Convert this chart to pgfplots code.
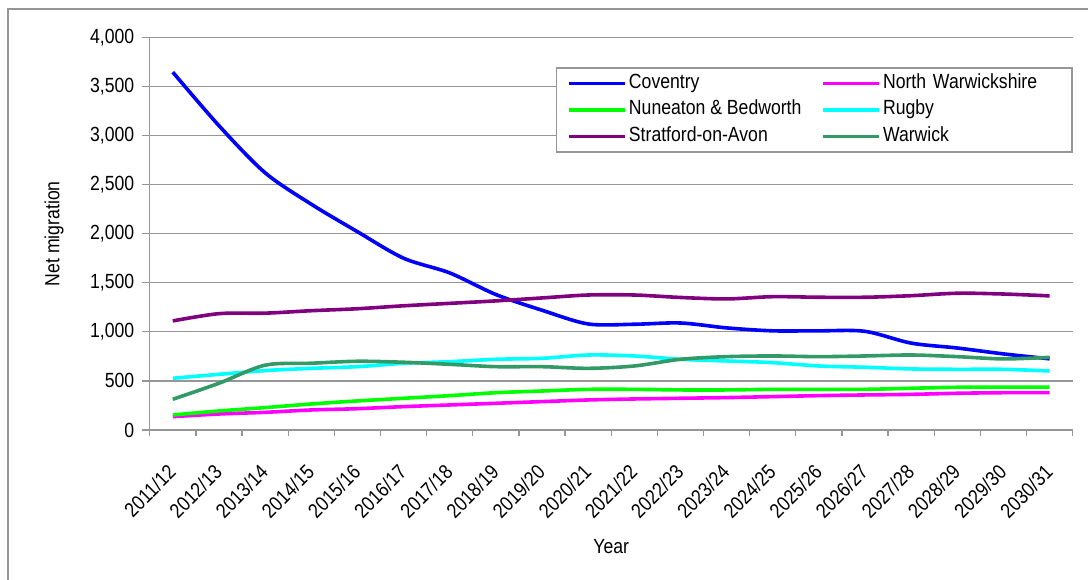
\documentclass[border=0pt]{standalone}
\usepackage{pgfplots}
\pgfplotsset{compat=1.18}
\usepackage{fontspec}
\setmainfont{Liberation Sans}[FakeStretch=0.86]
\definecolor{gridgray}{RGB}{150,150,150}
\definecolor{seagreen}{RGB}{51,153,102}
\definecolor{purp}{RGB}{128,0,128}
\definecolor{cBlue}{RGB}{0,0,255}
\definecolor{cMag}{RGB}{255,0,255}
\definecolor{cGreen}{RGB}{0,255,0}
\definecolor{cCyan}{RGB}{0,255,255}
\newcommand{\chartfont}{\fontsize{20.5bp}{24bp}\selectfont}
\begin{document}
\begin{tikzpicture}[x=1bp,y=1bp]
\useasboundingbox (0,0) rectangle (1088,580);
\draw[gridgray, line width=1.3bp] (8,0) -- (8,571) -- (1088,571);
\begin{axis}[
  at={(149.7bp,150bp)}, anchor=south west,
  scale only axis, width=923bp, height=392.7bp,
  xmin=-0.5, xmax=19.5, ymin=0, ymax=4000,
  axis lines*=left,
  axis line style={gridgray, line width=1.3bp},
  ytick={0,500,...,4000},
  ymajorgrids, major grid style={gridgray, line width=1.3bp},
  xtick={0,...,19},
  xticklabels={2011/12,2012/13,2013/14,2014/15,2015/16,2016/17,2017/18,2018/19,2019/20,2020/21,2021/22,2022/23,2023/24,2024/25,2025/26,2026/27,2027/28,2028/29,2029/30,2030/31},
  major x tick style={draw=none},
  minor xtick={-0.5,0.5,...,19.5},
  minor tick length=6bp,
  minor x tick style={gridgray, line width=1.3bp},
  tick align=outside,
  major tick length=8bp,
  ytick style={gridgray, line width=1.3bp},
  tick label style={font=\chartfont, text=black},
  yticklabel style={xshift=-4bp},
  xticklabel style={rotate=45, anchor=east, inner sep=1bp},
  xticklabel shift={30bp},
  /pgf/number format/.cd, 1000 sep={,}, assume math mode=true,
  /pgfplots/.cd,
  scaled y ticks=false,
  xlabel={Year}, ylabel={Net migration},
  label style={font=\chartfont},
  xlabel style={at={(axis description cs:0.5,-0.298)}, anchor=center},
  ylabel style={at={(axis description cs:-0.1037,0.5)}, anchor=center, rotate=0},
  legend columns=2,
  legend style={at={(rel axis cs:1,0.9236)}, anchor=north east, draw=gridgray, line width=1.3bp,
    font=\chartfont, inner xsep=11bp, inner ysep=6.5bp,
    nodes={inner ysep=0bp, text height=14bp, text depth=4bp},
    row sep=8.5bp,
    /tikz/column 2/.style={column sep=18bp},
    /tikz/column 4/.style={text width=176bp, align=left}},
  legend cell align=left,
  legend image code/.code={\draw[#1] (0bp,0bp) -- (56bp,0bp);},
  every axis plot/.append style={line width=3.6bp, smooth, tension=0.5},
]
\addplot[cBlue] coordinates {(0,3645) (1,3100) (2,2620) (3,2300) (4,2020) (5,1750) (6,1600) (7,1380) (8,1220) (9,1080) (10,1077) (11,1090) (12,1040) (13,1010) (14,1010) (15,1005) (16,885) (17,835) (18,775) (19,725)};
\addlegendentry{Coventry}
\addplot[cMag] coordinates {(0,136) (1,163) (2,180) (3,204) (4,217) (5,238) (6,255) (7,272) (8,289) (9,306) (10,316) (11,323) (12,330) (13,340) (14,350) (15,357) (16,363) (17,374) (18,380) (19,380)};
\addlegendentry{North Warwickshire}
\addplot[cGreen] coordinates {(0,153) (1,194) (2,228) (3,265) (4,296) (5,323) (6,350) (7,380) (8,397) (9,414) (10,414) (11,408) (12,408) (13,414) (14,414) (15,414) (16,425) (17,435) (18,435) (19,435)};
\addlegendentry{Nuneaton \& Bedworth}
\addplot[cCyan] coordinates {(0,527) (1,567) (2,605) (3,628) (4,645) (5,679) (6,696) (7,720) (8,730) (9,764) (10,754) (11,720) (12,703) (13,686) (14,652) (15,639) (16,622) (17,618) (18,618) (19,601)};
\addlegendentry{Rugby}
\addplot[purp] coordinates {(0,1111) (1,1185) (2,1190) (3,1215) (4,1235) (5,1265) (6,1290) (7,1315) (8,1345) (9,1375) (10,1375) (11,1350) (12,1335) (13,1358) (14,1352) (15,1352) (16,1368) (17,1393) (18,1385) (19,1366)};
\addlegendentry{Stratford-on-Avon}
\addplot[seagreen] coordinates {(0,313) (1,476) (2,660) (3,680) (4,700) (5,690) (6,669) (7,645) (8,645) (9,628) (10,652) (11,720) (12,747) (13,754) (14,747) (15,754) (16,764) (17,747) (18,724) (19,740)};
\addlegendentry{Warwick}
\end{axis}
\end{tikzpicture}
\end{document}
